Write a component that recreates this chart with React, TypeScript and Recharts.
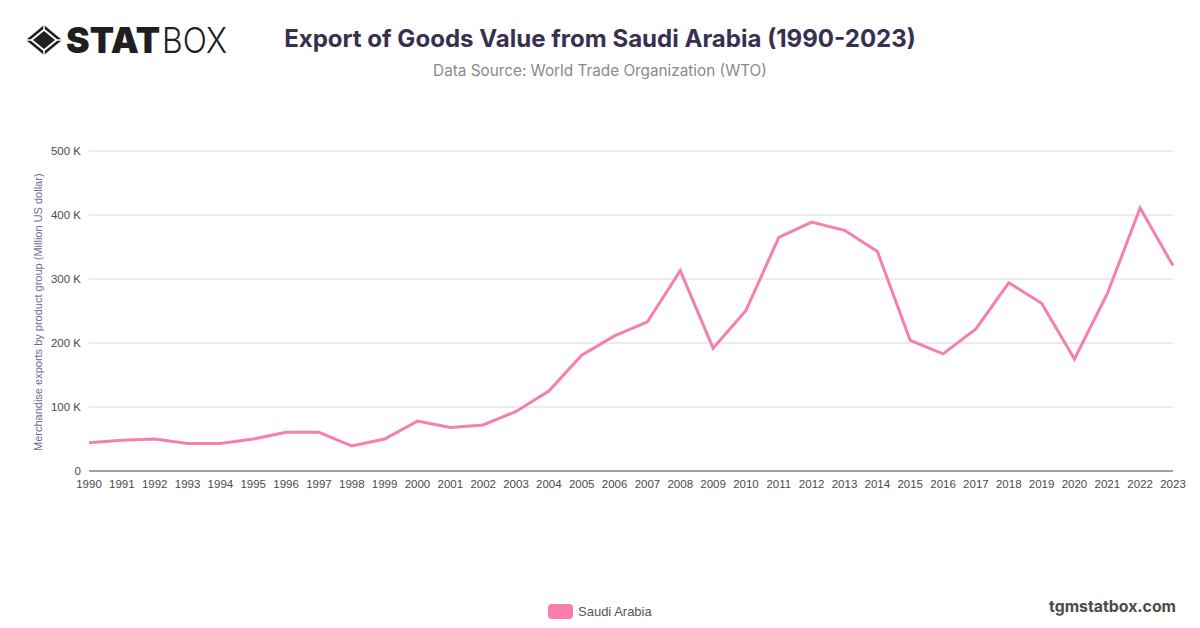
import React from "react";
import { LineChart, Line, XAxis, YAxis, CartesianGrid, Legend } from "recharts";

const years = ["1990","1991","1992","1993","1994","1995","1996","1997","1998","1999","2000","2001","2002","2003","2004","2005","2006","2007","2008","2009","2010","2011","2012","2013","2014","2015","2016","2017","2018","2019","2020","2021","2022","2023"];
const saudiArabia = [44,48,50,43,43,50,60.5,60.5,39,50,78,68,72,93,125,181,211,233,313,192,251,365,389,376,343,204,183,222,294,262,175,277,411,321];
const yTicks = [0,100,200,300,400,500];
const data = years.map((year, i) => ({ year, value: saudiArabia[i] * 1000 }));

const SERIES_NAME = "Saudi Arabia";
const TITLE = "Export of Goods Value from Saudi Arabia (1990-2023)";
const SUBTITLE = "Data Source: World Trade Organization (WTO)";
const Y_LABEL = "Merchandise exports by product group (Million US dollar)";
const sans = "'Liberation Sans', Arial, sans-serif";

const fmt = (v: number) => (v === 0 ? "0" : `${v / 1000} K`);

function LegendContent() {
  return (
    <div style={{ position: "absolute", left: 548, top: 604, display: "flex", alignItems: "center", fontFamily: sans, fontSize: 13, color: "#555", whiteSpace: "nowrap" }}>
      <span style={{ width: 25, height: 15, borderRadius: 4, background: "#fb7dab", marginRight: 5, display: "inline-block" }} />
      <span>{SERIES_NAME}</span>
    </div>
  );
}

function Logo() {
  return (
    <svg width={215} height={60} viewBox="0 0 215 60" style={{ position: "absolute", left: 25, top: 10 }}>
      <path d="M19 15 L37 30 L19 45 L1 30 Z" fill="#1f1f1f" />
      <path d="M19 18.5 L33 30 L19 41.5 L5 30 Z" fill="#fff" />
      <path d="M19 21 L30 30 L19 39 L8 30 Z" fill="#1f1f1f" />
      <path d="M1 30 H8 M30 30 H37 M19 15 V21 M19 39 V45" stroke="#fff" strokeWidth={1.5} />
      <text x={41} y={43} fontFamily="Inter, sans-serif" fontWeight={900} fontSize={36} fill="#1f1f1f" textLength={94} lengthAdjust="spacingAndGlyphs">STAT</text>
      <text x={137} y={43} fontFamily="Inter, sans-serif" fontWeight={300} fontSize={36} fill="#1f1f1f" textLength={65} lengthAdjust="spacingAndGlyphs">BOX</text>
    </svg>
  );
}

export default function App() {
  return (
    <div style={{ position: "absolute", left: 0, top: 0, width: 1200, height: 628, background: "#fff", overflow: "hidden" }}>
      <LineChart width={1200} height={628} data={data} margin={{ top: 151, right: 27, bottom: 127, left: 29 }}>
        <CartesianGrid horizontal vertical={false} stroke="#d9d9dd" strokeWidth={1} />
        <XAxis
          dataKey="year"
          interval={0}
          height={30}
          tickSize={0}
          tickMargin={9}
          axisLine={{ stroke: "#555", strokeWidth: 1.2 }}
          tick={{ fontFamily: sans, fontSize: 11.5, fill: "#4a4a4a" }}
        />
        <YAxis
          width={60}
          domain={[0, 500000]}
          ticks={yTicks.map((t) => t * 1000)}
          tickFormatter={fmt}
          tickSize={0}
          tickMargin={8}
          axisLine={false}
          tick={{ fontFamily: sans, fontSize: 11.5, fill: "#4a4a4a" }}
          label={{ value: Y_LABEL, angle: -90, position: "insideLeft", offset: 0, dx: 9, dy: 140, style: { fontFamily: sans, fontSize: 11, fill: "#6f6d8a" } }}
        />
        <Legend content={<LegendContent />} wrapperStyle={{ position: "absolute", left: 0, top: 0, width: 0, height: 0 }} />
        <Line type="linear" dataKey="value" name={SERIES_NAME} stroke="#f57fae" strokeWidth={3} dot={false} isAnimationActive={false} />
      </LineChart>
      <Logo />
      <div style={{ position: "absolute", left: 0, width: 1200, top: 24, textAlign: "center", fontFamily: "Inter, sans-serif", fontWeight: 700, fontSize: 24.05, color: "#37304f", whiteSpace: "nowrap" }}>{TITLE}</div>
      <div style={{ position: "absolute", left: 0, width: 1200, top: 61, textAlign: "center", fontFamily: "Inter, sans-serif", fontSize: 15.3, color: "#8a8a8a", whiteSpace: "nowrap" }}>{SUBTITLE}</div>
      <div style={{ position: "absolute", right: 24, top: 597, fontFamily: "Inter, sans-serif", fontWeight: 700, fontSize: 15.8, color: "#4a4a4a" }}>tgmstatbox.com</div>
    </div>
  );
}
